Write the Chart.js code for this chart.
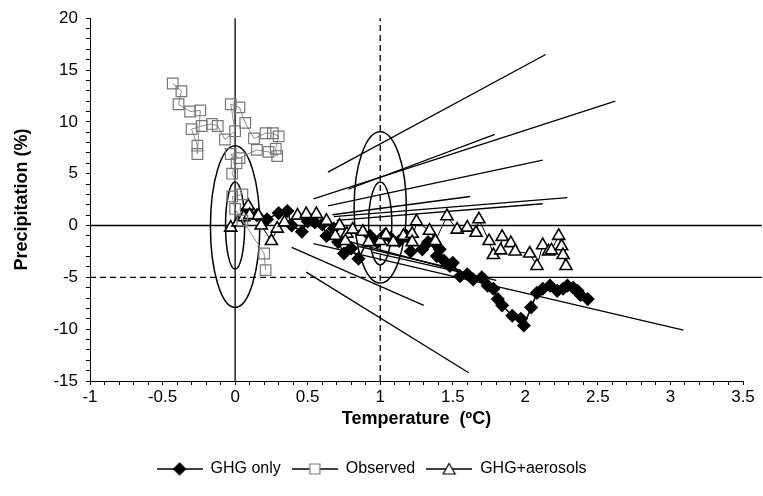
<!DOCTYPE html>
<html>
<head>
<meta charset="utf-8">
<script src="https://cdn.jsdelivr.net/npm/chart.js@4/dist/chart.umd.min.js"></script>
<style>
html, body { margin: 0; padding: 0; background: #fff; }
</style>
</head>
<body>
<canvas id="chart" width="763" height="496"></canvas>
<script>
// valeurs (Temperature °C, Precipitation %)
const seriesNames = ['GHG only', 'Observed', 'GHG+aerosols'];

const ghgOnly = [
    [0.08, 1.5], [0.15, 1.0], [0.22, 0.6], [0.30, 1.2], [0.36, 1.4], [0.39, 0.0], [0.46, -0.6],
    [0.50, 0.4], [0.55, 0.3], [0.60, 0.1], [0.63, -1.0], [0.68, -0.3], [0.71, -1.6], [0.75, -2.7],
    [0.80, -2.2], [0.85, -3.2], [0.93, -1.0], [0.98, -1.6], [1.03, -0.9], [1.07, -1.2], [1.13, -1.5],
    [1.18, -1.0], [1.21, -2.5], [1.29, -2.3], [1.33, -1.6], [1.37, -1.6], [1.39, -2.95], [1.41, -2.3],
    [1.44, -3.4], [1.48, -3.9], [1.50, -3.6], [1.55, -4.9], [1.60, -4.7], [1.64, -5.2], [1.70, -5.0],
    [1.74, -5.8], [1.78, -6.1], [1.81, -7.1], [1.84, -7.7], [1.91, -8.7], [1.97, -9.0], [1.99, -9.65],
    [2.04, -7.9], [2.08, -6.5], [2.12, -6.1], [2.17, -5.8], [2.22, -6.3], [2.26, -6.1], [2.29, -5.8],
    [2.33, -6.0], [2.36, -6.3], [2.38, -6.7], [2.43, -7.1]
];

const observed = [
    [0.21, -4.3], [0.20, -2.7], [0.05, 0.5], [0.00, 1.6], [-0.02, 2.8], [0.05, 3.0], [-0.02, 5.0],
    [0.01, 6.0], [-0.03, 6.9], [0.03, 6.5], [0.15, 7.3], [0.23, 7.1], [0.29, 6.7], [0.28, 7.4],
    [0.30, 8.6], [0.26, 8.9], [0.21, 8.9], [0.13, 8.4], [0.07, 9.9], [0.03, 11.4], [-0.03, 11.7],
    [0.00, 9.1], [-0.07, 8.3], [-0.12, 9.6], [-0.16, 9.8], [-0.23, 9.6], [-0.30, 9.3], [-0.26, 7.7],
    [-0.26, 6.9], [-0.24, 11.1], [-0.31, 11.0], [-0.39, 11.7], [-0.37, 12.95], [-0.43, 13.7]
];

const ghgAerosols = [
    [-0.03, -0.2], [0.02, 0.3], [0.06, 0.8], [0.09, 1.9], [0.10, 1.0], [0.16, 0.95], [0.18, 0.0],
    [0.25, -1.5], [0.29, -0.3], [0.34, 0.3], [0.43, 0.95], [0.49, 1.1], [0.56, 1.1], [0.63, 0.45],
    [0.69, -1.0], [0.72, 0.0], [0.77, -0.8], [0.76, -1.5], [0.81, -0.4], [0.88, -0.6], [0.92, -1.6],
    [1.00, -1.5], [1.04, -0.9], [1.09, -1.6], [1.16, -1.0], [1.22, -0.8], [1.22, -1.6], [1.25, 0.4],
    [1.34, -0.5], [1.38, -1.5], [1.46, 0.9], [1.53, -0.4], [1.60, -0.2], [1.66, -0.7], [1.68, 0.6],
    [1.75, -1.5], [1.78, -2.85], [1.83, -2.4], [1.84, -1.1], [1.90, -1.7], [1.93, -2.5], [2.03, -2.7],
    [2.08, -3.9], [2.12, -1.9], [2.16, -2.5], [2.18, -2.4], [2.23, -1.0], [2.25, -2.0], [2.26, -2.85],
    [2.28, -3.9]
];

// segments [x1, y1, x2, y2]
const upLines = [
    [0.64, 5.15, 2.14, 16.5], [0.54, 2.56, 2.62, 12.0], [0.78, 3.5, 1.79, 8.8], [0.64, 1.9, 2.12, 6.3],
    [0.67, 1.04, 1.62, 2.8], [0.68, 0.86, 2.29, 2.7], [0.70, 0.5, 2.12, 2.1]
];
const downLines = [
    [0.39, -2.1, 1.30, -7.7], [0.49, -4.5, 1.61, -14.2], [0.54, -1.75, 3.09, -10.1],
    [0.75, -1.4, 1.62, -4.7], [0.85, -2.0, 1.55, -4.3], [0.95, -2.6, 1.80, -5.3]
];
const solidRefLines = [[-1, 0, 3.63, 0], [0, -15, 0, 20], [1, -5, 3.63, -5]];
const dashedRefLines = [[1, -15, 1, 20], [-1, -5, 1, -5]];

// ellipses [cx, cy, rx, ry]
const ellipses = [[0, -0.1, 0.17, 7.8], [0, 0, 0.066, 4.2], [1, 1.75, 0.18, 7.3], [1, 0.2, 0.08, 4.0]];

const xTicks = { min: -1, max: 3.5, step: 0.1 };
const yTicks = { min: -15, max: 20, step: 1 };

const font = 'Liberation Sans, Arial, sans-serif';

function toPts(arr) {
    return arr.map(p => ({ x: p[0], y: p[1] }));
}

function segDataset(s, dash) {
    return {
        label: '',
        data: [{ x: s[0], y: s[1] }, { x: s[2], y: s[3] }],
        showLine: true,
        pointRadius: 0,
        borderColor: '#000',
        borderWidth: 1.3,
        borderDash: dash || [],
        clip: false,
        order: 10
    };
}

const datasets = [
    {
        label: seriesNames[0], data: toPts(ghgOnly), showLine: true,
        borderColor: '#000', borderWidth: 1.5, backgroundColor: '#000',
        pointStyle: 'rectRot', pointRadius: 6, pointBorderColor: '#000', pointBackgroundColor: '#000', order: 3
    },
    {
        label: seriesNames[1], data: toPts(observed), showLine: true,
        borderColor: '#8a8a8a', borderWidth: 1, backgroundColor: 'rgba(255,255,255,0)',
        pointStyle: 'rect', pointRadius: 7.5, pointBorderColor: '#777', pointBackgroundColor: 'rgba(255,255,255,0)',
        pointBorderWidth: 1.2, order: 1
    },
    {
        label: seriesNames[2], data: toPts(ghgAerosols), showLine: true,
        borderColor: '#000', borderWidth: 1, backgroundColor: '#fff',
        pointStyle: 'triangle', pointRadius: 7, pointBorderColor: '#000', pointBackgroundColor: '#fff',
        pointBorderWidth: 1.6, order: 2
    }
];
upLines.concat(downLines).concat(solidRefLines).forEach(s => datasets.push(segDataset(s)));
dashedRefLines.forEach(s => datasets.push(segDataset(s, [6, 4])));

function legendIcon(style, fill, stroke) {
    const c = document.createElement('canvas');
    c.width = 46; c.height = 16;
    const ctx = c.getContext('2d');
    ctx.strokeStyle = '#000';
    ctx.lineWidth = 1.5;
    ctx.beginPath(); ctx.moveTo(0, 8); ctx.lineTo(46, 8); ctx.stroke();
    ctx.fillStyle = fill;
    ctx.strokeStyle = stroke;
    ctx.lineWidth = 1.2;
    ctx.beginPath();
    if (style === 'diamond') {
        ctx.moveTo(23, 2); ctx.lineTo(29, 8); ctx.lineTo(23, 14); ctx.lineTo(17, 8); ctx.closePath();
    } else if (style === 'square') {
        ctx.rect(18, 3, 10, 10);
    } else {
        ctx.moveTo(23, 2.5); ctx.lineTo(29, 13); ctx.lineTo(17, 13); ctx.closePath();
    }
    ctx.fill(); ctx.stroke();
    return c;
}
const icons = [legendIcon('diamond', '#000', '#000'), legendIcon('square', '#fff', '#777'), legendIcon('triangle', '#fff', '#000')];

const ellipsePlugin = {
    id: 'ellipses',
    beforeDatasetsDraw(chart) {
        const ctx = chart.ctx, xs = chart.scales.x, ys = chart.scales.y;
        ctx.save();
        ctx.strokeStyle = '#000';
        ctx.lineWidth = 1.5;
        ellipses.forEach(e => {
            const cx = xs.getPixelForValue(e[0]), cy = ys.getPixelForValue(e[1]);
            const rx = Math.abs(xs.getPixelForValue(e[0] + e[2]) - cx);
            const ry = Math.abs(ys.getPixelForValue(e[1] + e[3]) - cy);
            ctx.beginPath();
            ctx.ellipse(cx, cy, rx, ry, 0, 0, Math.PI * 2);
            ctx.stroke();
        });
        ctx.restore();
    }
};

new Chart(document.getElementById('chart'), {
    type: 'scatter',
    data: { datasets: datasets },
    plugins: [ellipsePlugin],
    options: {
        responsive: false,
        animation: false,
        devicePixelRatio: 1,
        layout: { padding: { left: 0, right: 20, top: 9, bottom: 9 } },
        plugins: {
            tooltip: { enabled: false },
            legend: {
                position: 'bottom',
                labels: {
                    usePointStyle: true,
                    pointStyleWidth: 46,
                    padding: 11,
                    color: '#000',
                    font: { family: font, size: 16 },
                    generateLabels: () => seriesNames.map((name, i) => ({
                        text: name, pointStyle: icons[i], fillStyle: '#000', strokeStyle: '#000',
                        lineWidth: 0, hidden: false, datasetIndex: i, fontColor: '#000'
                    }))
                }
            }
        },
        scales: {
            x: {
                type: 'linear',
                min: xTicks.min, max: xTicks.max,
                afterFit: s => { s.height = 69; },
                border: { color: '#000', width: 1 },
                grid: { drawOnChartArea: false, color: '#000', tickLength: 4 },
                ticks: {
                    stepSize: xTicks.step, maxTicksLimit: 100, autoSkip: false, maxRotation: 0,
                    padding: 2, color: '#000', font: { family: font, size: 17 },
                    callback: v => Math.abs(Math.round(v * 10)) % 5 === 0 ? String(+v.toFixed(1)) : ''
                },
                title: {
                    display: true, text: 'Temperature  (ºC)', color: '#000',
                    font: { family: font, size: 18, weight: 'bold' }, padding: { top: 4, bottom: 20 }
                }
            },
            y: {
                type: 'linear',
                min: yTicks.min, max: yTicks.max,
                afterFit: s => { s.width = 90; },
                border: { color: '#000', width: 1 },
                grid: { drawOnChartArea: false, color: '#000', tickLength: 4 },
                ticks: {
                    stepSize: yTicks.step, maxTicksLimit: 100, autoSkip: false,
                    padding: 8, color: '#000', font: { family: font, size: 17 },
                    callback: v => v % 5 === 0 ? String(v) : ''
                },
                title: {
                    display: true, text: 'Precipitation (%)', color: '#000',
                    font: { family: font, size: 18, weight: 'bold' }, padding: { top: 11, bottom: 0 }
                }
            }
        }
    }
});
</script>
</body>
</html>
